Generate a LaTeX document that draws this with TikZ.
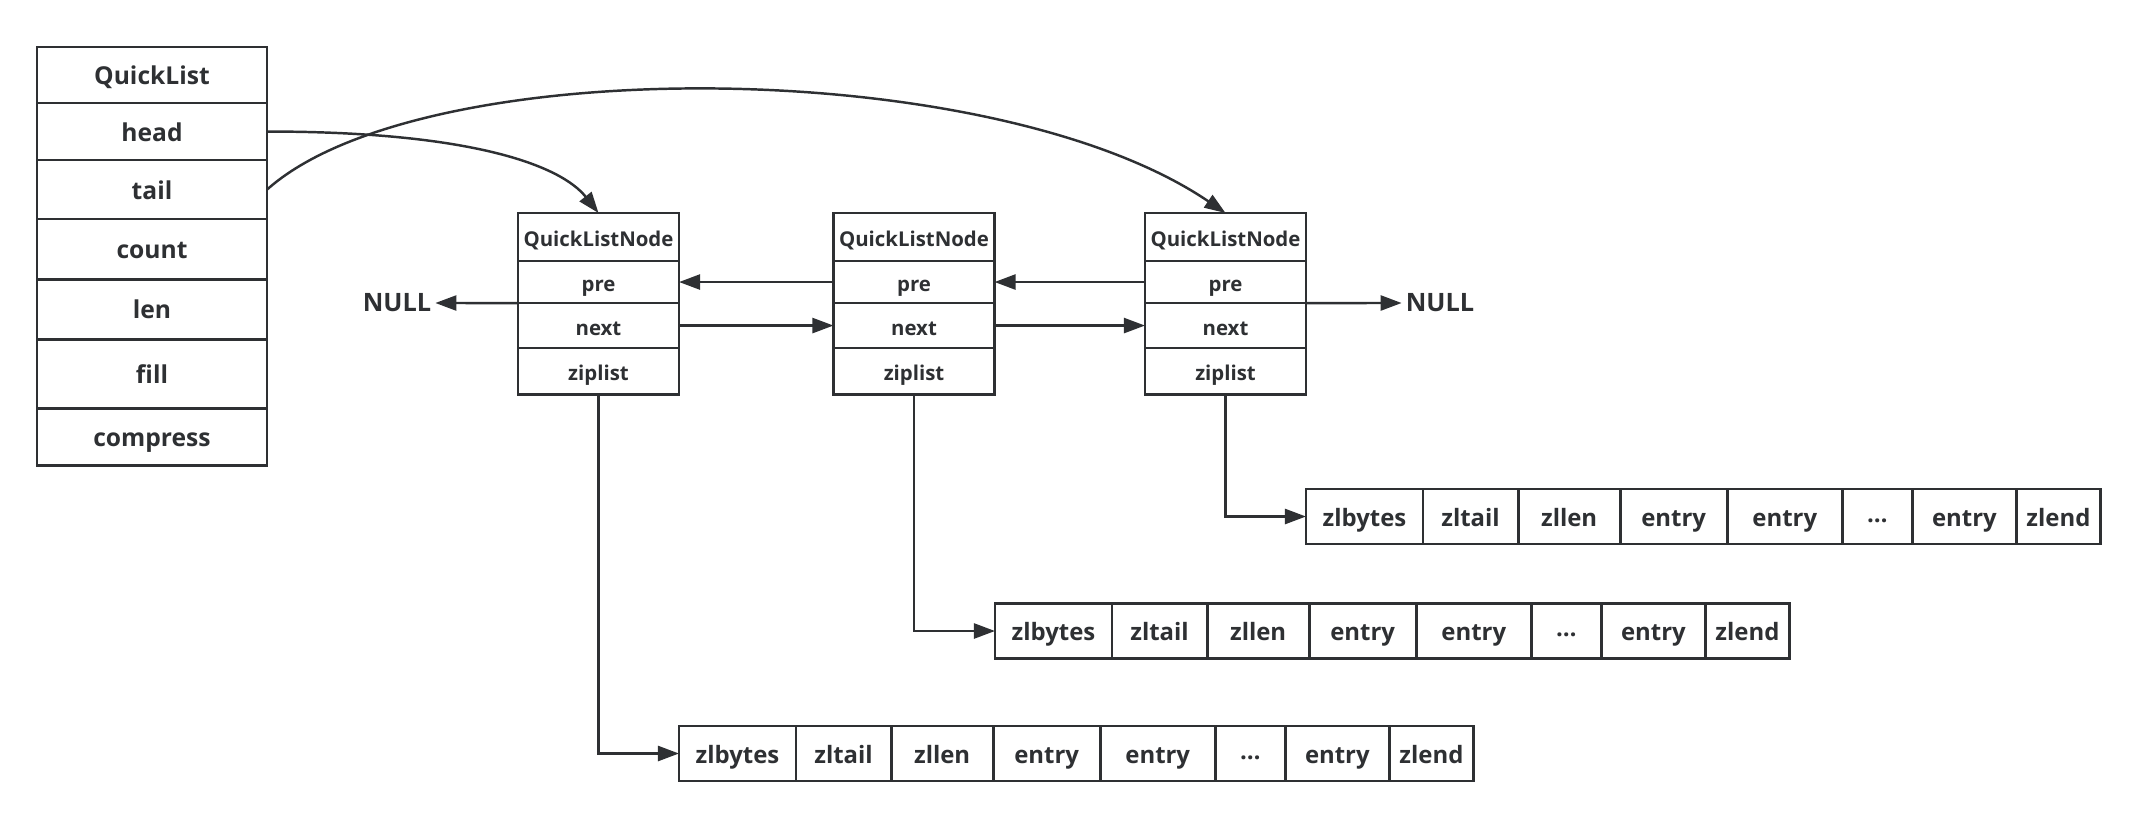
\documentclass[tikz,border=0pt]{standalone}
\usepackage{fontspec}
\setmainfont{Open Sans}
\usetikzlibrary{positioning,arrows.meta}

\definecolor{ink}{HTML}{2E3033}

\tikzset{
	cell/.style={draw=ink, line width=0.8pt, text=ink, font=\bfseries\fontsize{7}{8}\selectfont, inner sep=0pt, outer sep=0pt, minimum width=2.3cm, text height=0.74em, text depth=0.2em},
	ncell/.style={cell, minimum width=1.61cm, font=\bfseries\fontsize{5.8}{7}\selectfont},
	zcell/.style={cell, minimum height=0.55cm, font=\bfseries\fontsize{6.8}{8}\selectfont},
	nulltext/.style={text=ink, font=\bfseries\fontsize{7.2}{8}\selectfont, inner sep=1pt},
	link/.style={draw=ink, line width=0.7pt, -{Triangle[length=0.21cm,width=0.15cm]}},
}

\begin{document}
\begin{tikzpicture}[x=0.01cm, y=-0.01cm]
				\useasboundingbox (0,0) rectangle (2137,818);
				
				% Struttura QuickList
				\node[cell, minimum height=0.56cm] (ql) at (152,75) {QuickList};
				\node[cell, minimum height=0.57cm, below=0pt of ql] (qlhead) {head};
				\node[cell, minimum height=0.59cm, below=0pt of qlhead] (qltail) {tail};
				\node[cell, minimum height=0.60cm, below=0pt of qltail] (qlcount) {count};
				\node[cell, minimum height=0.60cm, below=0pt of qlcount] (qllen) {len};
				\node[cell, minimum height=0.69cm, below=0pt of qllen] (qlfill) {fill};
				\node[cell, minimum height=0.57cm, below=0pt of qlfill] (qlcompress) {compress};
				
				% Nodi QuickListNode
				\node[ncell, minimum height=0.48cm] (n1) at (598.5,237) {QuickListNode};
				\node[ncell, minimum height=0.42cm, below=0pt of n1] (n1pre) {pre};
				\node[ncell, minimum height=0.45cm, below=0pt of n1pre] (n1next) {next};
				\node[ncell, minimum height=0.46cm, below=0pt of n1next] (n1zip) {ziplist};
				
				\node[ncell, minimum height=0.48cm] (n2) at (914,237) {QuickListNode};
				\node[ncell, minimum height=0.42cm, below=0pt of n2] (n2pre) {pre};
				\node[ncell, minimum height=0.45cm, below=0pt of n2pre] (n2next) {next};
				\node[ncell, minimum height=0.46cm, below=0pt of n2next] (n2zip) {ziplist};
				
				\node[ncell, minimum height=0.48cm] (n3) at (1225.5,237) {QuickListNode};
				\node[ncell, minimum height=0.42cm, below=0pt of n3] (n3pre) {pre};
				\node[ncell, minimum height=0.45cm, below=0pt of n3pre] (n3next) {next};
				\node[ncell, minimum height=0.46cm, below=0pt of n3next] (n3zip) {ziplist};
				
				% Ziplist del primo nodo
				\node[zcell, minimum width=1.17cm] (z1a) at (737.5,753.5) {zlbytes};
				\node[zcell, minimum width=0.95cm, right=0pt of z1a] (z1b) {zltail};
				\node[zcell, minimum width=1.02cm, right=0pt of z1b] (z1c) {zllen};
				\node[zcell, minimum width=1.07cm, right=0pt of z1c] (z1d) {entry};
				\node[zcell, minimum width=1.15cm, right=0pt of z1d] (z1e) {entry};
				\node[zcell, minimum width=0.70cm, right=0pt of z1e] (z1f) {\raisebox{0.3ex}{…}};
				\node[zcell, minimum width=1.04cm, right=0pt of z1f] (z1g) {entry};
				\node[zcell, minimum width=0.84cm, right=0pt of z1g] (z1h) {zlend};
				
				% Ziplist del secondo nodo
				\node[zcell, minimum width=1.17cm] (z2a) at (1053.5,631) {zlbytes};
				\node[zcell, minimum width=0.95cm, right=0pt of z2a] (z2b) {zltail};
				\node[zcell, minimum width=1.02cm, right=0pt of z2b] (z2c) {zllen};
				\node[zcell, minimum width=1.07cm, right=0pt of z2c] (z2d) {entry};
				\node[zcell, minimum width=1.15cm, right=0pt of z2d] (z2e) {entry};
				\node[zcell, minimum width=0.70cm, right=0pt of z2e] (z2f) {\raisebox{0.3ex}{…}};
				\node[zcell, minimum width=1.04cm, right=0pt of z2f] (z2g) {entry};
				\node[zcell, minimum width=0.84cm, right=0pt of z2g] (z2h) {zlend};
				
				% Ziplist del terzo nodo
				\node[zcell, minimum width=1.17cm] (z3a) at (1364.5,516.5) {zlbytes};
				\node[zcell, minimum width=0.95cm, right=0pt of z3a] (z3b) {zltail};
				\node[zcell, minimum width=1.02cm, right=0pt of z3b] (z3c) {zllen};
				\node[zcell, minimum width=1.07cm, right=0pt of z3c] (z3d) {entry};
				\node[zcell, minimum width=1.15cm, right=0pt of z3d] (z3e) {entry};
				\node[zcell, minimum width=0.70cm, right=0pt of z3e] (z3f) {\raisebox{0.3ex}{…}};
				\node[zcell, minimum width=1.04cm, right=0pt of z3f] (z3g) {entry};
				\node[zcell, minimum width=0.84cm, right=0pt of z3g] (z3h) {zlend};
				
				% NULL agli estremi
				\node[nulltext] (nullL) at (397,303) {NULL};
				\node[nulltext] (nullR) at (1440,303) {NULL};
				
				% Puntatori head e tail
				\draw[link] (qlhead.east) .. controls +(203,0) and +(-38,-48) .. (n1.north);
				\draw[link] (qltail.east) .. controls +(154,-138) and +(-234,-159) .. (n3.north);
				
				% Collegamenti pre e next
				\draw[link] (n2pre.west) -- (n1pre.east);
				\draw[link] (n3pre.west) -- (n2pre.east);
				\draw[link] (n1next.east) -- (n2next.west);
				\draw[link] (n2next.east) -- (n3next.west);
				\draw[link] (n1pre.south west) -- (nullL.east);
				\draw[link] (n3pre.south east) -- (nullR.west);
				
				% Collegamenti alle ziplist
				\draw[link] (n1zip.south) |- (z1a.west);
				\draw[link] (n2zip.south) |- (z2a.west);
				\draw[link] (n3zip.south) |- (z3a.west);
			\end{tikzpicture}
\end{document}
